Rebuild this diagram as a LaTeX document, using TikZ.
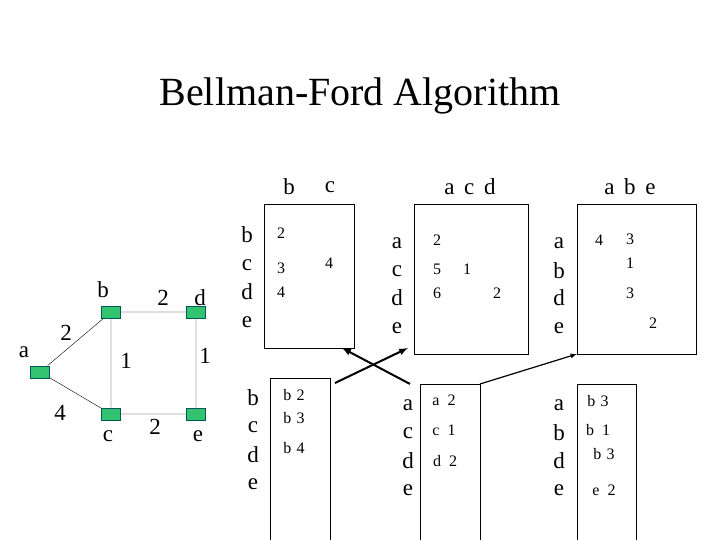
\documentclass[tikz,border=0pt]{standalone}
\usepackage{fontspec}
\setmainfont{Liberation Serif}
\begin{document}
\begin{tikzpicture}[x=1pt,y=-1pt,
  lab/.style={font=\fontsize{23}{25}\selectfont,inner sep=0pt},
  ent/.style={font=\fontsize{16}{18}\selectfont,inner sep=0pt},
  vx/.style={draw=teal!70!black,fill=teal!60!green!80,minimum width=19pt,minimum height=12pt,inner sep=0pt,line width=1pt},
  tbl/.style={draw,line width=0.8pt},
  arr/.style={-latex,line width=2pt},
  arr2/.style={-latex,line width=1.2pt}]
\useasboundingbox (0,0) rectangle (720,540);
\node[font=\fontsize{40}{44}\selectfont] (title) at (360,96) {Bellman-Ford Algorithm};
% graph
\node[vx] (a) at (40,372) {};
\node[vx] (b) at (111,312) {};
\node[vx] (d) at (196,312) {};
\node[vx] (c) at (111,414) {};
\node[vx] (e) at (196,414) {};
\draw (a) -- (b) (a) -- (c) (b) -- (d) (b) -- (c) (d) -- (e) (c) -- (e);
\node[lab] (la) at (24,352) {a};
\node[lab] (lb) at (103,290) {b};
\node[lab] (ld) at (200,298) {d};
\node[lab] (lc) at (108,436) {c};
\node[lab] (le) at (198,436) {e};
\node[lab] (w1) at (66,333) {2};
\node[lab] (w2) at (60,413) {4};
\node[lab] (w3) at (163,298) {2};
\node[lab] (w4) at (126,361) {1};
\node[lab] (w5) at (205,356) {1};
\node[lab] (w6) at (155,427) {2};
% tables
\draw[tbl] (264,204) rectangle (354,348);
\draw[tbl] (414,204) rectangle (528,354);
\draw[tbl] (577,204) rectangle (696,354);
\draw[tbl] (270,540) -- (270,378) -- (330,378) -- (330,540);
\draw[tbl] (420,540) -- (420,384) -- (480,384) -- (480,540);
\draw[tbl] (577,540) -- (577,384) -- (636,384) -- (636,540);
% headers
\node[lab] (h1) at (289,187) {b};
\node[lab] (h2) at (330,187) {c};
\node[lab] (h3) at (470,187) {a\, c\, d};
\node[lab] (h4) at (630,187) {a\, b\, e};
% row labels
\foreach \t/\y in {b/235,c/265,d/292,e/322} \node[lab] at (247,\y) {\t};
\foreach \t/\y in {a/243,c/271,d/298,e/328} \node[lab] at (397,\y) {\t};
\foreach \t/\y in {a/243,b/271,d/298,e/328} \node[lab] at (559,\y) {\t};
\foreach \t/\y in {b/398,c/427,d/455,e/484} \node[lab] at (253,\y) {\t};
\foreach \t/\y in {a/405,c/433,d/461,e/490} \node[lab] at (408,\y) {\t};
\foreach \t/\y in {a/405,b/433,d/461,e/490} \node[lab] at (559,\y) {\t};
% entries
\node[ent] at (281,233) {2};
\node[ent] at (281,268) {3};
\node[ent] at (281,292) {4};
\node[ent] at (329,263) {4};
\node[ent] at (437,240) {2};
\node[ent] at (437,269) {5};
\node[ent] at (467,269) {1};
\node[ent] at (437,293) {6};
\node[ent] at (497,293) {2};
\node[ent] at (599,240) {4};
\node[ent] at (630,239) {3};
\node[ent] at (630,263) {1};
\node[ent] at (630,293) {3};
\node[ent] at (653,323) {2};
\node[ent] at (294,395) {b\,\,2};
\node[ent] at (294,418) {b\,\,3};
\node[ent] at (294,448) {b\,\,4};
\node[ent] at (444,400) {a\,\,\,2};
\node[ent] at (444,430) {c\,\,\,1};
\node[ent] at (445,461) {d\,\,\,2};
\node[ent] at (598,401) {b\,\,3};
\node[ent] at (598,430) {b\,\,\,1};
\node[ent] at (604,454) {b\,\,3};
\node[ent] at (604,490) {e\,\,\,2};
% arrows
\coordinate (p1) at (335,383); \coordinate (q1) at (408,348);
\coordinate (p2) at (410,384); \coordinate (q2) at (342,348);
\coordinate (p3) at (480,384); \coordinate (q3) at (577,354);
\draw[arr] (p1) -- (q1);
\draw[arr] (p2) -- (q2);
\draw[arr2] (p3) -- (q3);
\end{tikzpicture}
\end{document}
